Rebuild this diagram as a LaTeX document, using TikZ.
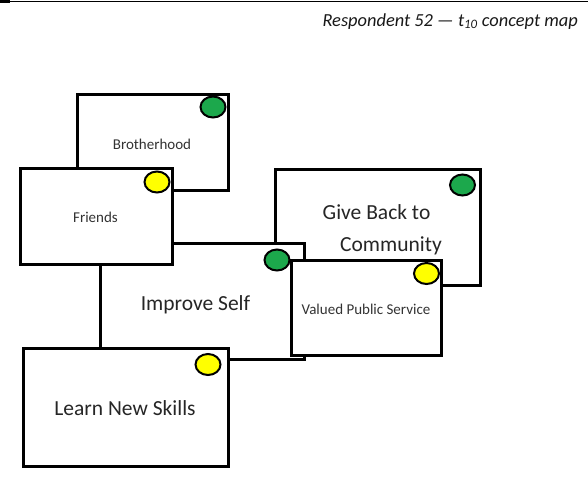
\documentclass[tikz,border=0pt]{standalone}
\usepackage{fontspec}
\setmainfont{Carlito}
\usetikzlibrary{shapes.geometric}
\definecolor{dotgreen}{RGB}{28,168,76}
\definecolor{dotyellow}{RGB}{255,255,0}
\begin{document}
\begin{tikzpicture}[x=1pt,y=-1pt,
  box/.style={draw=black,line width=3pt,fill=white,rectangle,inner sep=0pt,outer sep=0pt},
  dot/.style={draw=black,line width=2pt,ellipse,minimum width=25pt,minimum height=21pt,inner sep=0pt},
  small/.style={font=\fontsize{15}{18}\selectfont,text=black!80,inner sep=0pt,anchor=base},
  big/.style={font=\fontsize{21.5}{26}\selectfont,text=black!85,inner sep=0pt,anchor=base}]
\useasboundingbox (0,0) rectangle (588,477);
\fill[white] (0,0) rectangle (588,477);
% top rule
\coordinate (rl) at (0,1.5);
\coordinate (rr) at (588,1.5);
\coordinate (rm) at (10,1.5);
\draw[line width=1.5pt] (rl) -- (rr);
\draw[line width=3pt] (rl) -- (rm);
\node[font=\fontsize{18.4}{22}\selectfont\itshape,text=black!90,anchor=base east,inner sep=0pt] (title) at (578,26) {Respondent 52 — t\textsubscript{10} concept map};
% boxes (back to front)
\node[box,minimum width=151pt,minimum height=96pt] (brother) at (152.5,142) {};
\node[box,minimum width=205pt,minimum height=116pt] (give) at (377.5,227) {};
\node[box,minimum width=204pt,minimum height=116pt] (improve) at (202,301) {};
\node[box,minimum width=152pt,minimum height=96pt] (friends) at (96,216) {};
\node[box,minimum width=150pt,minimum height=95pt] (valued) at (366,307.5) {};
\node[box,minimum width=205pt,minimum height=118pt] (learn) at (125.5,407) {};
% texts
\node[small] (tbrother) at (152,149) {Brotherhood};
\node[small] (tfriends) at (95.5,222.5) {Friends};
\node[big] (tgive1) at (376.5,219) {Give Back to};
\node[big] (tgive2) at (391,251) {Community};
\node[big] (timprove) at (195.5,310) {Improve Self};
\node[small] (tvalued) at (366,314) {Valued Public Service};
\node[big] (tlearn) at (125,415) {Learn New Skills};
% dots
\node[dot,fill=dotgreen] (dbrother) at (213,107) {};
\node[dot,fill=dotyellow] (dfriends) at (157,182) {};
\node[dot,fill=dotgreen] (dgive) at (462.5,185) {};
\node[dot,fill=dotgreen] (dimprove) at (277,260) {};
\node[dot,fill=dotyellow] (dvalued) at (426.5,273.5) {};
\node[dot,fill=dotyellow] (dlearn) at (208,364.5) {};
\end{tikzpicture}
\end{document}
